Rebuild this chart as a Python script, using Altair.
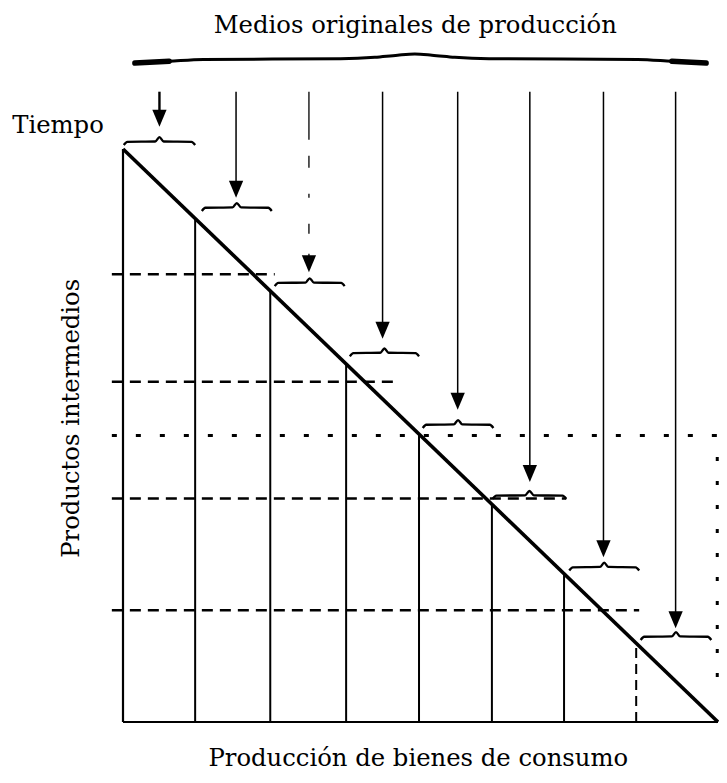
import altair as alt
import pandas as pd

# ---------------- data (data units: columns 0..8, time 0..8) ----------------
tri_width = 8.0          # consumer-goods output (base of the triangle)
tri_height = 8.0         # time (left side of the triangle)

stage = [0, 1, 2, 3, 4, 5, 6, 7]
boundary_x = [0.97, 1.98, 3.0, 3.98, 4.96, 5.93, 6.9]          # vertical stage boundaries
boundary_kind = ["solid", "solid", "solid", "solid", "solid", "solid", "dashed"]

arrow_x = [0.49, 1.52, 2.5, 3.49, 4.5, 5.47, 6.46, 7.43]
arrow_tip = [8.31, 7.32, 6.28, 5.35, 4.36, 3.35, 2.30, 1.31]
arrow_top = 8.8
arrow_kind = ["thick", "thin", "broken", "thin", "thin", "thin", "thin", "thin"]

brace_start = [0.01, 1.06, 2.04, 3.05, 4.03, 4.97, 6.0, 6.96]
brace_end = [0.97, 2.0, 2.98, 3.98, 4.98, 5.96, 6.94, 7.91]
brace_y = [8.10, 7.18, 6.13, 5.15, 4.15, 3.16, 2.16, 1.19]

hline_y = [6.25, 4.75, 4.0, 3.12, 1.56]
hline_start = [-0.15, -0.15, -0.15, -0.15, -0.15]
hline_end = [2.04, 3.70, 8.03, 5.96, 6.94]
hline_kind = ["dashed", "dashed", "dotted", "dashed", "dashed"]

right_dots_x = 7.99
right_dots_y = [3.70, 0.35]

top_brace_start, top_brace_end, top_brace_y = 0.16, 7.84, 9.26

labels_text = ["Medios originales de producción", "Tiempo",
               "Productos intermedios", "Producción de bienes de consumo"]
labels_x = [3.93, -1.49, -0.59, 3.97]
labels_y = [9.62, 8.22, 4.24, -0.62]

# ---------------- shapes (style) ----------------
small_brace_shape = [(0.0, -0.045), (0.05, 0.0), (0.44, 0.005), (0.5, 0.065),
                     (0.56, 0.005), (0.95, 0.0), (1.0, -0.045)]
top_brace_shape = [(0.0, -0.06), (0.06, -0.035), (0.12, -0.01), (0.36, 0.0),
                   (0.42, 0.02), (0.46, 0.05), (0.49, 0.065), (0.52, 0.05),
                   (0.56, 0.02), (0.62, 0.0),
                   (0.88, -0.01), (0.94, -0.035), (1.0, -0.06)]

FONT = "DejaVu Serif"
FS = 24.3
W, H = 719, 774
X = alt.Scale(domain=[-1.6538, 8.0134], nice=False, zero=False)
Y = alt.Scale(domain=[-0.726, 10.0803], nice=False, zero=False)


def ex(f="x"):
    return alt.X(f"{f}:Q", scale=X, axis=None)


def ey(f="y"):
    return alt.Y(f"{f}:Q", scale=Y, axis=None)


def rules(df, **mk):
    return alt.Chart(df).mark_rule(color="black", **mk).encode(
        x=ex(), y=ey(), x2="x2:Q", y2="y2:Q")


# triangle sides
sides = pd.DataFrame({"x": [0, 0], "y": [0, 0],
                      "x2": [0, tri_width], "y2": [tri_height, 0]})
diag = pd.DataFrame({"x": [0, tri_width], "y": [tri_height, 0]})

# stage boundaries (top on the diagonal)
bnd = pd.DataFrame({"x": boundary_x, "x2": boundary_x, "y": [0] * len(boundary_x),
                    "y2": [tri_height - b * tri_height / tri_width for b in boundary_x],
                    "kind": boundary_kind})

hl = pd.DataFrame({"x": hline_start, "x2": hline_end, "y": hline_y, "y2": hline_y,
                   "kind": hline_kind})
rd = pd.DataFrame({"x": [right_dots_x], "x2": [right_dots_x],
                   "y": [right_dots_y[0]], "y2": [right_dots_y[1]]})

arr = pd.DataFrame({"x": arrow_x, "x2": arrow_x, "y": [arrow_top] * 8,
                    "y2": [t + 0.12 for t in arrow_tip], "tip": arrow_tip,
                    "kind": arrow_kind})

# braces
rows = []
for s, a, b, yb in zip(stage, brace_start, brace_end, brace_y):
    for i, (t, dy) in enumerate(small_brace_shape):
        rows.append({"g": s, "o": i, "x": a + t * (b - a), "y": yb + dy})
braces = pd.DataFrame(rows)

trows = []
for i, (t, dy) in enumerate(top_brace_shape):
    trows.append({"o": i, "x": top_brace_start + t * (top_brace_end - top_brace_start),
                  "y": top_brace_y + dy})
tbrace = pd.DataFrame(trows)
n_top = len(top_brace_shape)
tends = tbrace[(tbrace.o <= 1) | (tbrace.o >= n_top - 2)].copy()
tends["g"] = (tends.o > 2).astype(int)

labels = pd.DataFrame({"t": labels_text, "x": labels_x, "y": labels_y})

layers = [
    rules(sides, strokeWidth=2.2),
    alt.Chart(diag).mark_line(color="black", strokeWidth=3.6).encode(x=ex(), y=ey()),
    rules(bnd[bnd.kind == "solid"], strokeWidth=2),
    rules(bnd[bnd.kind == "dashed"], strokeWidth=2, strokeDash=[10, 6]),
    rules(hl[hl.kind == "dashed"], strokeWidth=2.5, strokeDash=[11, 7]),
    rules(hl[hl.kind == "dotted"], strokeWidth=3.2, strokeDash=[5, 19]),
    rules(rd, strokeWidth=3, strokeDash=[4, 20]),
    rules(arr[arr.kind == "thick"], strokeWidth=2.4),
    rules(arr[arr.kind == "thin"], strokeWidth=1.5),
    rules(arr[arr.kind == "broken"], strokeWidth=1.3, strokeDash=[48, 16, 12, 26, 4, 26, 10, 20]),
    alt.Chart(arr).mark_point(shape="M-0.42,-1L0.42,-1L0,0Z", filled=True, size=1156,
                              color="black", opacity=1, strokeWidth=0).encode(
        x=ex(), y=ey("tip")),
    alt.Chart(braces).mark_line(color="black", strokeWidth=2.3, interpolate="monotone").encode(
        x=ex(), y=ey(), detail="g:N", order="o:Q"),
    alt.Chart(tbrace).mark_line(color="black", strokeWidth=3, interpolate="monotone").encode(
        x=ex(), y=ey(), order="o:Q"),
    alt.Chart(tends).mark_line(color="black", strokeWidth=5.5, strokeCap="round").encode(
        x=ex(), y=ey(), detail="g:N", order="o:Q"),
    alt.Chart(labels.iloc[[0, 3]]).mark_text(font=FONT, fontSize=FS, align="center",
                                            baseline="alphabetic", color="black").encode(
        x=ex(), y=ey(), text="t:N"),
    alt.Chart(labels.iloc[[1]]).mark_text(font=FONT, fontSize=FS, align="left",
                                         baseline="alphabetic", color="black").encode(
        x=ex(), y=ey(), text="t:N"),
    alt.Chart(labels.iloc[[2]]).mark_text(font=FONT, fontSize=FS, align="center", angle=270,
                                         baseline="alphabetic", color="black").encode(
        x=ex(), y=ey(), text="t:N"),
]

# negative top/left padding cancels the page's 8px margin, so chart pixels = page pixels;
# the SVG is then 711 px wide, which fits the page body without being shrunk.
chart = alt.layer(*layers).properties(
    width=W, height=H, padding={"left": -8, "top": -8, "right": 0, "bottom": 0},
    autosize="none", background="white"
).configure_view(stroke=None)

chart.save("out.html", embed_options={"renderer": "svg", "actions": False})
